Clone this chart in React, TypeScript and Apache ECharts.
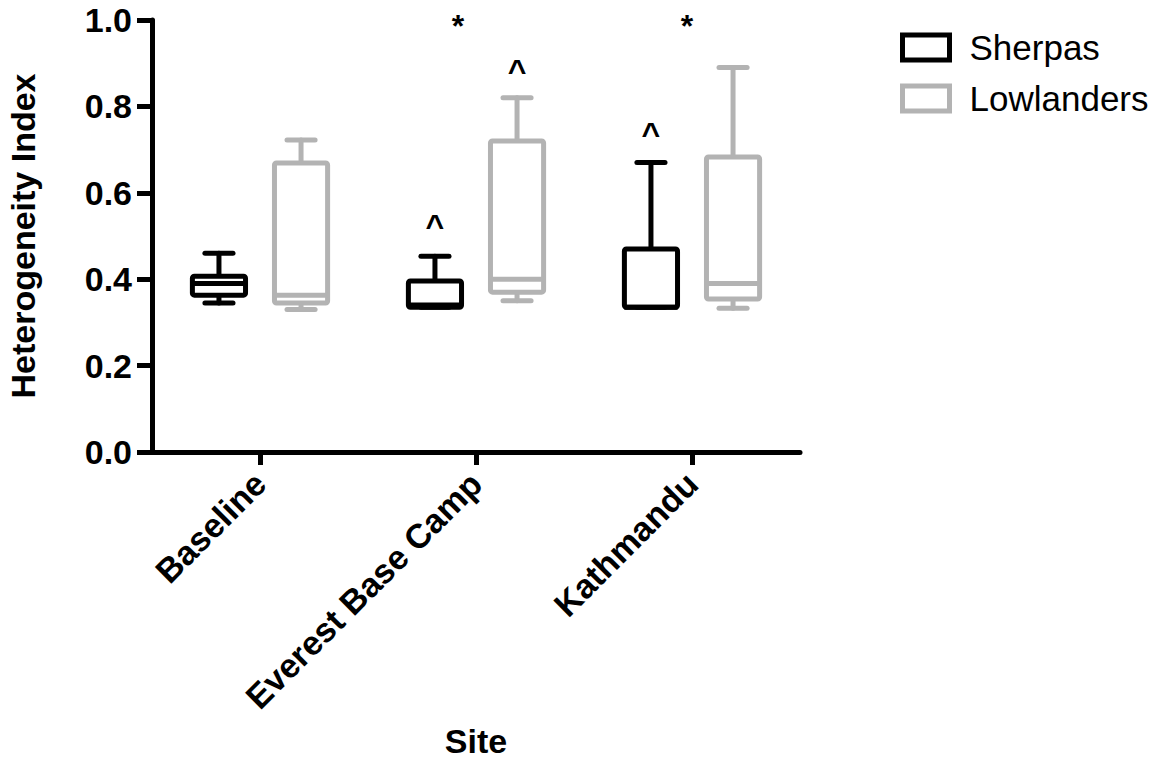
import React, { useEffect, useRef } from "react";
import * as echarts from "echarts";

const categories = ["Baseline", "Everest Base Camp", "Kathmandu"];
// [min, Q1, median, Q3, max]
const sherpas = [
  [0.345, 0.363, 0.39, 0.407, 0.46],
  [0.335, 0.335, 0.34, 0.396, 0.453],
  [0.335, 0.335, 0.335, 0.47, 0.67],
];
const lowlanders = [
  [0.33, 0.345, 0.363, 0.669, 0.722],
  [0.35, 0.37, 0.4, 0.72, 0.82],
  [0.333, 0.354, 0.39, 0.683, 0.89],
];
const annotationTexts = ["^", "^", "^", "*", "*"];
const annotationCats = [1, 1, 2, 1, 2];
const annotationGroups = ["Sherpas", "Lowlanders", "Sherpas", "", ""];
const annotationValues = [0.523, 0.883, 0.737, 0.987, 0.987];
const yTicks = [0, 0.2, 0.4, 0.6, 0.8, 1.0];

const FONT = "'Liberation Sans', Arial, Helvetica, sans-serif";
const BLACK = "#000000";
const GRAY = "#b3b3b3";
const GROUP_SHIFT: Record<string, number> = { Sherpas: -0.19, Lowlanders: 0.19, "": 0 };
const STAR_SHIFT = [0, 0, 0, -0.083, -0.023];

function makeBoxRender(color: string, shift: number) {
  return (params: any, api: any) => {
    const cat = api.value(0);
    const band = api.size([1, 0])[0];
    const cx = api.coord([cat, 0])[0] + shift * band;
    const y = (v: number) => api.coord([cat, v])[1];
    const hw = band * 0.123;
    const cw = band * 0.065;
    const ymin = y(api.value(1));
    const yq1 = y(api.value(2));
    const ymed = y(api.value(3));
    const yq3 = y(api.value(4));
    const ymax = y(api.value(5));
    const ls = { stroke: color, lineWidth: 5, lineCap: "round" };
    return {
      type: "group",
      children: [
        { type: "line", shape: { x1: cx, y1: yq3, x2: cx, y2: ymax }, style: ls },
        { type: "line", shape: { x1: cx - cw, y1: ymax, x2: cx + cw, y2: ymax }, style: ls },
        { type: "line", shape: { x1: cx, y1: yq1, x2: cx, y2: ymin }, style: ls },
        { type: "line", shape: { x1: cx - cw, y1: ymin, x2: cx + cw, y2: ymin }, style: ls },
        {
          type: "rect",
          shape: { x: cx - hw, y: yq3, width: 2 * hw, height: yq1 - yq3, r: 2 },
          style: { fill: "#ffffff", stroke: color, lineWidth: 5, lineJoin: "round" },
        },
        { type: "line", shape: { x1: cx - hw, y1: ymed, x2: cx + hw, y2: ymed }, style: { stroke: color, lineWidth: 5 } },
      ],
    };
  };
}

export default function App() {
  const ref = useRef<HTMLDivElement>(null);
  useEffect(() => {
    if (!ref.current) return;
    const chart = echarts.init(ref.current, null, { renderer: "svg" });
    const option: any = {
      animation: false,
      backgroundColor: "#ffffff",
      grid: { left: 152, right: 370, top: 20, bottom: 308, containLabel: false, outerBoundsMode: "none" },
      legend: {
        orient: "vertical",
        left: 900,
        top: 30,
        padding: 0,
        itemGap: 16,
        itemWidth: 47,
        itemHeight: 25,
        icon: "rect",
        selectedMode: false,
        textStyle: { fontSize: 35, color: BLACK, fontFamily: FONT, padding: [0, 0, 0, 15] },
        data: [
          { name: "Sherpas", icon: "rect", itemStyle: { color: "#ffffff", borderColor: BLACK, borderWidth: 5 } },
          { name: "Lowlanders", icon: "rect", itemStyle: { color: "#ffffff", borderColor: GRAY, borderWidth: 5 } },
        ],
      },
      xAxis: {
        type: "category",
        data: categories,
        name: "Site",
        nameLocation: "middle",
        nameGap: 272,
        nameTextStyle: { fontSize: 34, fontWeight: "bold", color: BLACK, fontFamily: FONT },
        axisLine: { show: true, lineStyle: { color: BLACK, width: 5 } },
        axisTick: { show: true, alignWithLabel: true, length: 13, lineStyle: { color: BLACK, width: 5 } },
        axisLabel: {
          rotate: 45,
          margin: 26,
          fontSize: 34,
          fontWeight: "bold",
          color: BLACK,
          fontFamily: FONT,
          interval: 0,
        },
        splitLine: { show: false },
      },
      yAxis: {
        type: "value",
        min: 0,
        max: 1,
        interval: 0.2,
        name: "Heterogeneity Index",
        nameLocation: "middle",
        nameGap: 112,
        nameTextStyle: { fontSize: 34, fontWeight: "bold", color: BLACK, fontFamily: FONT },
        axisLine: { show: true, lineStyle: { color: BLACK, width: 5 } },
        axisTick: { show: true, length: 15, lineStyle: { color: BLACK, width: 5 } },
        axisLabel: {
          margin: 20,
          fontSize: 34,
          fontWeight: "bold",
          color: BLACK,
          fontFamily: FONT,
          formatter: (v: number) => {
            const t = yTicks.find((x) => Math.abs(x - v) < 1e-9);
            return (t !== undefined ? t : v).toFixed(1);
          },
        },
        splitLine: { show: false },
      },
      series: [
        {
          name: "Sherpas",
          type: "custom",
          renderItem: makeBoxRender(BLACK, GROUP_SHIFT.Sherpas),
          encode: { x: 0, y: [1, 2, 3, 4, 5] },
          data: sherpas.map((d, i) => [i, ...d]),
          itemStyle: { color: BLACK },
          clip: false,
          silent: true,
        },
        {
          name: "Lowlanders",
          type: "custom",
          renderItem: makeBoxRender(GRAY, GROUP_SHIFT.Lowlanders),
          encode: { x: 0, y: [1, 2, 3, 4, 5] },
          data: lowlanders.map((d, i) => [i, ...d]),
          itemStyle: { color: GRAY },
          clip: false,
          silent: true,
        },
        {
          name: "annotations",
          type: "custom",
          encode: { x: 0, y: 1 },
          data: annotationCats.map((c, i) => [c, annotationValues[i]]),
          clip: false,
          silent: true,
          renderItem: (params: any, api: any) => {
            const i = params.dataIndex;
            const cat = api.value(0);
            const band = api.size([1, 0])[0];
            const shift = GROUP_SHIFT[annotationGroups[i]] + STAR_SHIFT[i];
            const p = api.coord([cat, api.value(1)]);
            return {
              type: "text",
              x: p[0] + shift * band,
              y: p[1],
              style: {
                text: annotationTexts[i],
                fill: BLACK,
                font: `bold 32px ${FONT}`,
                align: "center",
                verticalAlign: "middle",
              },
            };
          },
        },
      ],
    };
    chart.setOption(option);
    return () => chart.dispose();
  }, []);
  return (
    <div
      ref={ref}
      style={{ position: "fixed", left: 0, top: 0, width: 1170, height: 760, background: "#fff" }}
    />
  );
}
